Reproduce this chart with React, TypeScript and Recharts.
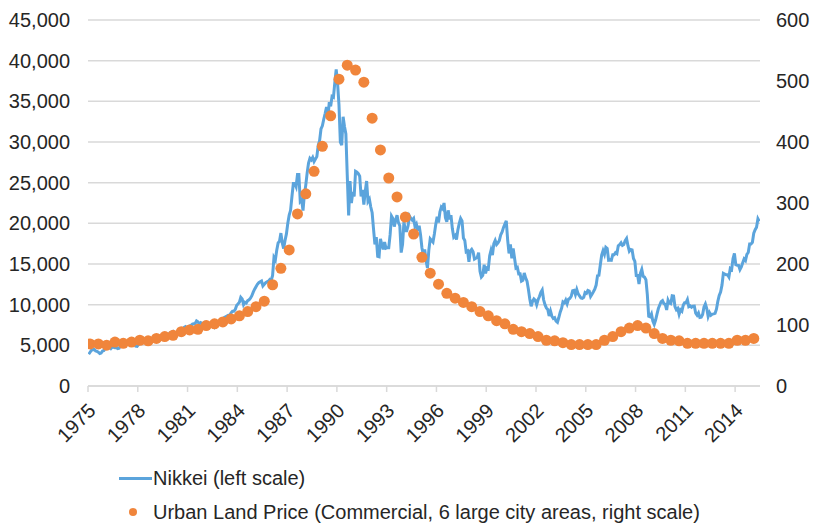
import React from "react"
import { ComposedChart, Line, Scatter, XAxis, YAxis, CartesianGrid } from "recharts"

// Nikkei 225, monthly, Jan 1975 .. Jun 2015 (one row per year)
const nikkeiMonthly = [
  3900, 4150, 4400, 4450, 4500, 4300, 4250, 4150, 4000, 4050, 4300, 4360, // 1975
  4650, 4700, 4800, 4750, 4600, 4800, 4750, 4700, 4700, 4600, 4650, 4990, // 1976
  5100, 5000, 5050, 5100, 5150, 5200, 5150, 5100, 5200, 5200, 4900, 4870, // 1977
  5100, 5200, 5400, 5500, 5600, 5650, 5700, 5600, 5700, 5800, 5850, 6000, // 1978
  6100, 6200, 6100, 6100, 6150, 6200, 6300, 6350, 6250, 6250, 6400, 6570, // 1979
  6600, 6700, 6450, 6500, 6600, 6800, 6900, 7000, 7000, 7200, 7300, 7116, // 1980
  7300, 7400, 7450, 7600, 7650, 7700, 8000, 7900, 7600, 7800, 7700, 7680, // 1981
  7800, 7600, 7500, 7400, 7450, 7600, 7400, 7200, 7400, 7700, 7900, 8020, // 1982
  8000, 8100, 8400, 8500, 8600, 8700, 8700, 9000, 9200, 9200, 9400, 9894, // 1983
  10100, 10300, 10900, 10700, 10000, 10300, 10200, 10500, 10600, 10800, 11100, 11540, // 1984
  11900, 12200, 12500, 12700, 12800, 12900, 12300, 12500, 12700, 12800, 12900, 13110, // 1985
  13000, 13600, 15800, 15500, 16700, 17600, 17800, 18800, 17600, 16900, 17900, 18700, // 1986
  20000, 21000, 21600, 23300, 24900, 24900, 24500, 26000, 26000, 22700, 22900, 21560, // 1987
  23600, 24700, 26200, 27400, 28000, 27800, 28100, 27600, 27900, 28200, 29600, 30160, // 1988
  31600, 32000, 32800, 33500, 34300, 33000, 34900, 34400, 35600, 35500, 37300, 38916, // 1989
  37200, 34600, 29980, 29600, 33100, 31900, 31000, 25900, 20980, 25200, 22500, 23850, // 1990
  23300, 26400, 26300, 26100, 25800, 23300, 24100, 22300, 23900, 25200, 22700, 22980, // 1991
  22000, 21300, 19300, 17400, 18300, 15950, 15900, 18100, 17400, 16800, 17700, 16930, // 1992
  17000, 17000, 18600, 20900, 20600, 19600, 20400, 21000, 20100, 19700, 16400, 17420, // 1993
  20200, 19100, 19100, 19700, 20900, 20600, 20400, 20600, 19600, 19900, 19100, 19720, // 1994
  18600, 17000, 16100, 16800, 15400, 14500, 16700, 18100, 17900, 17700, 18700, 19870, // 1995
  20800, 20100, 21400, 22000, 21800, 22500, 20700, 20200, 21600, 20500, 21000, 19360, // 1996
  18300, 18500, 18000, 19200, 20000, 20600, 20300, 18200, 17900, 16500, 16600, 15260, // 1997
  16600, 16800, 16500, 15600, 15700, 15800, 16400, 14100, 13400, 13600, 14900, 13840, // 1998
  14500, 14400, 16000, 16700, 16100, 17500, 17900, 17400, 17600, 17900, 18600, 18930, // 1999
  19500, 19900, 20300, 17970, 16300, 17400, 15700, 16900, 15700, 14500, 14600, 13790, // 2000
  13800, 12900, 13000, 13900, 13300, 12900, 11900, 10700, 9800, 10400, 10700, 10540, // 2001
  9990, 10600, 11000, 11500, 11800, 10600, 10000, 9600, 9400, 8600, 9200, 8580, // 2002
  8300, 8400, 7970, 7830, 8420, 9080, 9560, 10340, 10220, 10560, 10100, 10680, // 2003
  10780, 11040, 11720, 11760, 11240, 11860, 11330, 11080, 10820, 10770, 10900, 11490, // 2004
  11390, 11740, 11670, 11010, 11280, 11580, 11900, 12410, 13570, 13610, 14870, 16110, // 2005
  16650, 16200, 17060, 16910, 15470, 15500, 15460, 16140, 16130, 16400, 16270, 17230, // 2006
  17380, 17600, 17290, 17400, 17880, 18140, 17250, 16570, 16790, 16740, 15680, 15310, // 2007
  13590, 13600, 12530, 13850, 14340, 13480, 13380, 13070, 11260, 8580, 8510, 8860, // 2008
  7990, 7570, 8110, 8830, 9520, 9960, 10360, 10490, 10130, 10030, 9350, 10550, // 2009
  10200, 10130, 11090, 11060, 9770, 9380, 9540, 8820, 9370, 9200, 9940, 10230, // 2010
  10240, 10620, 9760, 9850, 9690, 9820, 9830, 8950, 8700, 8990, 8430, 8460, // 2011
  8800, 9720, 10080, 9520, 8540, 9010, 8700, 8840, 8870, 8930, 9450, 10400, // 2012
  11140, 11560, 12400, 13860, 13770, 13680, 13670, 13390, 14460, 14330, 15660, 16290, // 2013
  14910, 14840, 14830, 14300, 14630, 15160, 15620, 15420, 16170, 16410, 17460, 17450, // 2014
  17670, 18800, 19210, 19520, 20560, 20240, // 2015
]

// Urban land price index, commercial, 6 large city areas: March / September, 1975 .. 2015
const landPrice = [
  69, 69, 67, 72, 70, 72, 75, 74, 78, 81, // 1975-1979
  83, 89, 92, 93, 99, 102, 105, 110, 115, 122, // 1980-1984
  130, 139, 166, 193, 223, 282, 315, 352, 393, 443, // 1985-1989
  503, 526, 518, 498, 439, 387, 341, 310, 277, 249, // 1990-1994
  211, 185, 167, 152, 144, 137, 130, 122, 115, 107, // 1995-1999
  102, 93, 89, 86, 81, 75, 74, 71, 68, 68, // 2000-2004
  68, 68, 75, 81, 89, 95, 99, 95, 86, 78, // 2005-2009
  75, 74, 70, 70, 70, 70, 70, 70, 75, 75, // 2010-2014
  78, // 2015
]

const yearTicks = [1975, 1978, 1981, 1984, 1987, 1990, 1993, 1996, 1999, 2002, 2005, 2008, 2011, 2014]
const leftTicks = [0, 5000, 10000, 15000, 20000, 25000, 30000, 35000, 40000, 45000]
const rightTicks = [0, 100, 200, 300, 400, 500, 600]

const nikkeiRows = nikkeiMonthly.map((v, i) => ({ t: 1975 + (i + 0.5) / 12, nikkei: v }))
const landRows = landPrice.map((v, i) => ({ t: 1975 + (i * 6 + 1.5) / 12, land: v }))

const FONT = "'Liberation Sans', Arial, sans-serif"
const TEXT = "#262626"
const BLUE = "#5BA4DC"
const ORANGE = "#F0853B"

const YearTick = (props: any) => {
  const { x, y, payload } = props
  const tx = x + 4
  const ty = y + 13
  return (
    <text
      x={tx}
      y={ty}
      textAnchor="end"
      dominantBaseline="central"
      transform={`rotate(-45, ${tx}, ${ty})`}
      fontSize={20}
      fontFamily={FONT}
      fill={TEXT}
    >
      {payload.value}
    </text>
  )
}

const Dot = (props: any) => <circle cx={props.cx} cy={props.cy} r={5.5} fill={ORANGE} />

export default function App() {
  return (
    <div style={{ position: "absolute", left: 0, top: 0, width: 813, height: 523, background: "#fff", fontFamily: FONT }}>
      <ComposedChart width={813} height={523} margin={{ top: 20, right: 0, bottom: 77, left: 0 }}>
        <CartesianGrid vertical={false} stroke="#d9d9d9" strokeWidth={1.5} yAxisId="left" />
        <XAxis
          type="number"
          dataKey="t"
          domain={[1975, 2015.5]}
          ticks={yearTicks}
          interval={0}
          allowDataOverflow
          height={60}
          stroke="#d9d9d9"
          strokeWidth={1.5}
          tickSize={6}
          tick={<YearTick />}
        />
        <YAxis
          yAxisId="left"
          domain={[0, 45000]}
          ticks={leftTicks}
          width={88}
          axisLine={false}
          tickLine={false}
          tickSize={0}
          tickMargin={18}
          tickFormatter={(v: number) => v.toLocaleString("en-US")}
          tick={{ fontSize: 20, fill: TEXT, fontFamily: FONT }}
        />
        <YAxis
          yAxisId="right"
          orientation="right"
          domain={[0, 600]}
          ticks={rightTicks}
          width={53}
          axisLine={false}
          tickLine={false}
          tickSize={0}
          tickMargin={16}
          tick={{ fontSize: 20, fill: TEXT, fontFamily: FONT, textAnchor: "start" }}
        />
        <Line
          yAxisId="left"
          data={nikkeiRows}
          dataKey="nikkei"
          type="linear"
          stroke={BLUE}
          strokeWidth={3}
          dot={false}
          isAnimationActive={false}
        />
        <Scatter
          yAxisId="right"
          data={landRows}
          dataKey="land"
          shape={<Dot />}
          isAnimationActive={false}
        />
      </ComposedChart>

      <div style={{ position: "absolute", left: 119, top: 466, height: 24, display: "flex", alignItems: "center", fontSize: 20, color: TEXT }}>
        <div style={{ width: 33, height: 3, background: BLUE }} />
        <span style={{ marginLeft: 1 }}>Nikkei (left scale)</span>
      </div>
      <div style={{ position: "absolute", left: 129, top: 500, height: 24, display: "flex", alignItems: "center", fontSize: 20, color: TEXT }}>
        <div style={{ width: 8, height: 8, borderRadius: "50%", background: ORANGE }} />
        <span style={{ marginLeft: 16 }}>Urban Land Price (Commercial, 6 large city areas, right scale)</span>
      </div>
    </div>
  )
}
